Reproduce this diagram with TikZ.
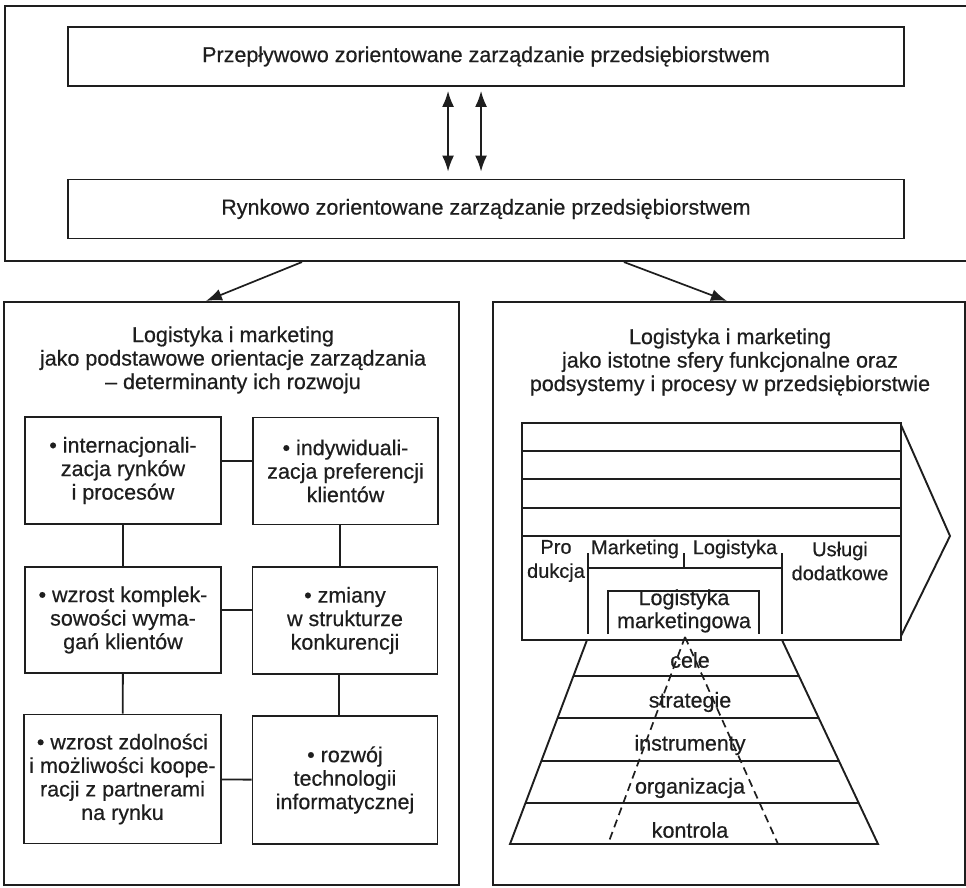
\documentclass[tikz,border=0pt]{standalone}
\usepackage{fontspec}
\setmainfont[FakeBold=0.5]{Liberation Sans}
\usetikzlibrary{arrows.meta,calc}
\definecolor{ink}{HTML}{1e1e1e}
\begin{document}
\begin{tikzpicture}[x=1pt,y=-1pt,color=ink,line width=1.9pt,
  every node/.style={font=\fontsize{21.5}{23.5}\selectfont,text=ink,align=center},
  boxed/.style={draw,line width=1.9pt,inner sep=0pt},
  frameline/.style={draw,line width=2.1pt,inner sep=0pt},
  arr/.style={line width=1.7pt,-{Latex[length=16pt,width=12pt]}},
  darr/.style={line width=1.7pt,{Latex[length=16pt,width=12pt]}-{Latex[length=16pt,width=12pt]}},
  chainlabel/.style={font=\fontsize{20}{24}\selectfont,inner sep=0pt},
  level/.style={inner sep=0pt},
  dashline/.style={line width=1.7pt,dash pattern=on 8pt off 5pt}]
\useasboundingbox (0,0) rectangle (966,888);
\clip (0,0) rectangle (966,888);
\fill[white] (0,0) rectangle (966,888);

% upper frame with the two management orientations
\node[frameline,minimum width=975,minimum height=255] (frame) at (492.5,133.5) {};
\node[boxed,minimum width=836,minimum height=59] (flow) at (486,56.5)
  {Przepływowo zorientowane zarządzanie przedsiębiorstwem};
\node[boxed,minimum width=836,minimum height=59] (market) at (486,209)
  {Rynkowo zorientowane zarządzanie przedsiębiorstwem};
\draw[darr,shorten <=4pt,shorten >=7pt] ([xshift=381pt]flow.south west) -- ([xshift=381pt]market.north west);
\draw[darr,shorten <=4pt,shorten >=7pt] ([xshift=414pt]flow.south west) -- ([xshift=414pt]market.north west);

% lower left: determinants
\node[frameline,minimum width=455,minimum height=583] (lbox) at (231.5,593.5) {};
\node (ltitle) at (233,360) {Logistyka i marketing\\jako podstawowe orientacje zarządzania\\– determinanty ich rozwoju};

\node[boxed,minimum width=196,minimum height=107] (A) at (123,470.5) {• internacjonali-\\zacja rynków\\i procesów};
\node[boxed,minimum width=185,minimum height=107] (B) at (345.5,471) {• indywiduali-\\zacja preferencji\\klientów};
\node[boxed,minimum width=196,minimum height=106] (C) at (123,620) {• wzrost komplek-\\sowości wyma-\\gań klientów};
\node[boxed,minimum width=185,minimum height=107] (D) at (345,620.5) {• zmiany\\w strukturze\\konkurencji};
\node[boxed,minimum width=197,minimum height=129] (E) at (122.5,779) {• wzrost zdolności\\i możliwości koope-\\racji z partnerami\\na rynku};
\node[boxed,minimum width=185,minimum height=128] (F) at (345,780) {• rozwój\\technologii\\informatycznej};

\draw ([yshift=9.5pt]A.east) -- ([yshift=9.5pt]A.east -| B.west);
\draw ([yshift=10pt]C.east) -- ([yshift=10pt]C.east -| D.west);
\draw (E) -- (F);
\draw (A) -- (C);
\draw (C) -- (E);
\draw ([xshift=-5.5pt]B.south) -- ([xshift=-5.5pt]B.south |- D.north);
\draw ([xshift=-6pt]D.south) -- ([xshift=-6pt]D.south |- F.north);

% lower right: functional spheres
\node[frameline,minimum width=472,minimum height=583] (rbox) at (729,593.5) {};
\node (rtitle) at (730,362) {Logistyka i marketing\\jako istotne sfery funkcjonalne oraz\\podsystemy i procesy w przedsiębiorstwie};

\draw[arr] ([xshift=298pt]frame.south west) -- ([xshift=203pt]lbox.north west);
\draw[arr] ([xshift=620pt]frame.south west) -- ([xshift=235pt]rbox.north west);

% value chain
\draw (522,423) rectangle (901,640);
\foreach \y in {451,479,508,536} \draw (522,\y) -- (901,\y);
\draw[line join=miter] (901,425) -- (950,536) -- (901,636);
\draw (588,553) -- (588,634);
\draw (782,553) -- (782,634);
\draw (684,553) -- (684,568);
\draw (588,568) -- (782,568);
\draw (608,634) -- (608,591) -- (759,591) -- (759,634);

\node[chainlabel] (prod) at (556,561) {Pro\\dukcja};
\node[chainlabel] (mkt) at (635,549) {Marketing};
\node[chainlabel] (log) at (735,549) {Logistyka};
\node[chainlabel] (serv) at (840,561) {Usługi\\dodatkowe};
\node[inner sep=0pt,font=\fontsize{21.5}{23}\selectfont] (lm) at (684,611) {Logistyka\\marketingowa};

% pyramid of management levels
\draw (587,640) -- (510,844) -- (878,844) -- (782,640);
\draw (573.4,676) -- (798.9,676);
\draw (557.6,718) -- (818.7,718);
\draw (541.3,761) -- (838.9,761);
\draw (525.5,803) -- (858.7,803);
\draw[dashline] (685,637) -- (608,844);
\draw[dashline] (685,637) -- (778,844);

\node[level] (l1) at (690,660) {cele};
\node[level] (l2) at (690,702) {strategie};
\node[level] (l3) at (690,745) {instrumenty};
\node[level] (l4) at (690,788) {organizacja};
\node[level] (l5) at (690,830) {kontrola};
\end{tikzpicture}
\end{document}
